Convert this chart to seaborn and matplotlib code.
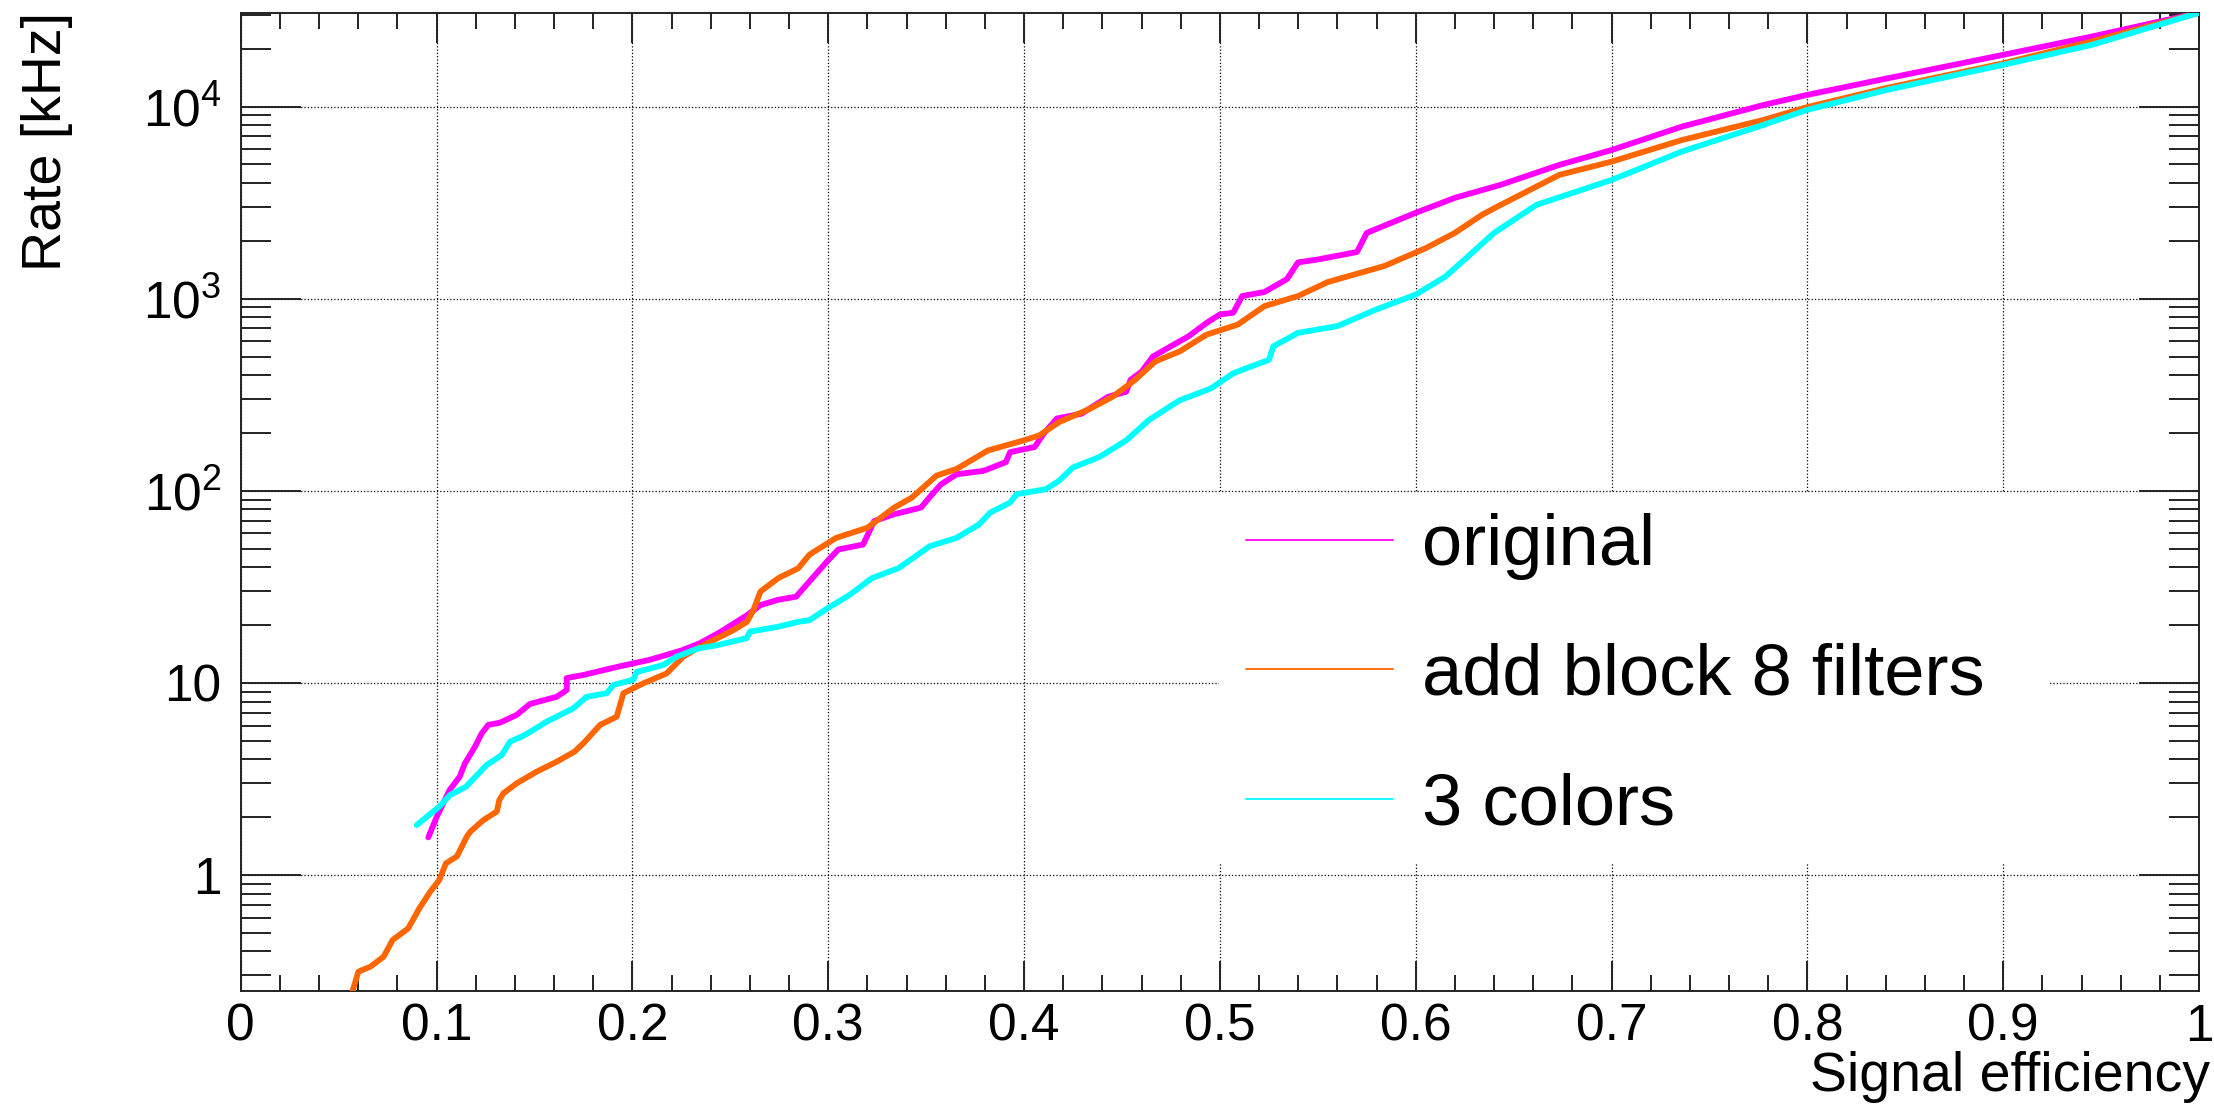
import matplotlib
matplotlib.use('Agg')
import seaborn as sns; sns.set_style("white")
import matplotlib.pyplot as plt
from matplotlib.lines import Line2D
from matplotlib.patches import Rectangle
from matplotlib.ticker import FixedLocator, FixedFormatter, MultipleLocator, FuncFormatter, LogLocator, NullFormatter

plt.rcParams['font.family'] = ['Liberation Sans', 'DejaVu Sans']
plt.rcParams['mathtext.fontset'] = 'custom'
plt.rcParams['mathtext.rm'] = 'Liberation Sans'
plt.rcParams['mathtext.it'] = 'Liberation Sans'
plt.rcParams['text.color'] = 'black'
plt.rcParams['xtick.color'] = 'black'
plt.rcParams['ytick.color'] = 'black'
plt.rcParams['axes.labelcolor'] = 'black'

# values
eff_original = [0.0958, 0.1001, 0.1067, 0.1118, 0.1145, 0.1196, 0.1231, 0.1264, 0.1324, 0.1409,
                0.1477, 0.1614, 0.1665, 0.1665, 0.1750, 0.192, 0.209, 0.2255, 0.2345, 0.2449,
                0.2585, 0.2654, 0.2745, 0.2836, 0.2904, 0.2995, 0.3052, 0.3178, 0.3235, 0.3337,
                0.3474, 0.3531, 0.3576, 0.3656, 0.3793, 0.3907, 0.3929, 0.4054, 0.4100, 0.4168,
                0.4294, 0.4430, 0.4522, 0.4544, 0.4601, 0.4658, 0.4749, 0.4840, 0.4932, 0.5,
                0.5068, 0.5114, 0.5228, 0.5342, 0.5399, 0.55, 0.57, 0.575, 0.60, 0.62,
                0.6432, 0.6733, 0.70, 0.736, 0.7777, 0.7998, 0.8404, 0.9, 0.9448, 1.0]
rate_original = [1.57, 2.01, 2.77, 3.25, 3.81, 4.65, 5.47, 6.04, 6.21, 6.81,
                 7.77, 8.47, 9.19, 10.6, 11.0, 12.1, 13.2, 14.8, 16.1, 18.4,
                 22.5, 25.4, 27.1, 28.1, 33.7, 43.0, 49.5, 52.5, 69.6, 75.5,
                 81.8, 96, 108, 122, 127, 141, 159, 169, 198, 238,
                 252, 309, 328, 378, 418, 500, 565, 637, 748, 828,
                 845, 1032, 1084, 1263, 1545, 1600, 1750, 2200, 2800, 3350,
                 3910, 4970, 5940, 7870, 10200, 11500, 14000, 18600, 23100, 30800]

eff_block8 = [0.0571, 0.0601, 0.0662, 0.0730, 0.0776, 0.0855, 0.0912, 0.0968, 0.1014, 0.1048,
              0.1104, 0.1154, 0.1172, 0.1239, 0.1308, 0.1320, 0.1341, 0.1409, 0.1511, 0.1614,
              0.1705, 0.1750, 0.1835, 0.192, 0.1954, 0.2056, 0.2175, 0.226, 0.2345, 0.2515,
              0.2585, 0.2618, 0.2654, 0.2745, 0.2847, 0.2904, 0.3041, 0.3200, 0.3337, 0.3428,
              0.3553, 0.3656, 0.3815, 0.3998, 0.4077, 0.4180, 0.4339, 0.4453, 0.4567, 0.4670,
              0.4795, 0.4932, 0.5091, 0.5228, 0.5399, 0.555, 0.584, 0.605, 0.62, 0.634,
              0.6432, 0.6733, 0.70, 0.736, 0.7777, 0.7998, 0.8404, 0.9, 0.9448, 1.0]
rate_block8 = [0.249, 0.314, 0.333, 0.376, 0.459, 0.527, 0.670, 0.819, 0.942, 1.15,
               1.25, 1.58, 1.68, 1.93, 2.14, 2.45, 2.66, 3.0, 3.45, 3.89,
               4.39, 4.85, 6.04, 6.67, 8.83, 9.95, 11.2, 13.7, 15.4, 18.8,
               20.8, 23.9, 29.9, 35.1, 39.5, 46.5, 56.9, 64.2, 81.8, 92.3,
               120, 130, 162, 183, 194, 228, 268, 309, 378, 471,
               532, 650, 733, 915, 1032, 1220, 1480, 1830, 2200, 2740,
               3070, 4410, 5170, 6700, 8530, 9930, 12500, 16800, 21800, 30800]

eff_3colors = [0.0899, 0.1014, 0.1069, 0.1150, 0.1256, 0.1333, 0.1375, 0.1452, 0.1562, 0.1698,
               0.1767, 0.1869, 0.1903, 0.2005, 0.2022, 0.2158, 0.2226, 0.2335, 0.2431, 0.2584,
               0.2601, 0.2745, 0.2847, 0.2904, 0.2995, 0.3109, 0.3223, 0.3360, 0.3519, 0.3656,
               0.3770, 0.3827, 0.3929, 0.3963, 0.4112, 0.4180, 0.4248, 0.4385, 0.4522, 0.4636,
               0.4795, 0.4954, 0.5068, 0.5251, 0.5273, 0.5399, 0.56, 0.58, 0.60, 0.615,
               0.625, 0.64, 0.6617, 0.70, 0.736, 0.7777, 0.7998, 0.8404, 0.9, 0.9448, 1.0]
rate_3colors = [1.82, 2.27, 2.61, 2.88, 3.74, 4.21, 4.94, 5.36, 6.28, 7.37,
                8.47, 8.83, 9.75, 10.4, 11.4, 12.4, 13.7, 15.1, 15.7, 17.1,
                18.5, 19.6, 20.8, 21.2, 24.4, 28.7, 35.1, 39.6, 51.5, 56.9,
                66.8, 76.9, 86.9, 96.1, 102, 113, 132, 150, 183, 233,
                296, 341, 409, 481, 565, 664, 720, 880, 1050, 1300,
                1600, 2200, 3080, 4150, 5840, 8040, 9610, 12200, 16500, 20900, 30800]

labels = ['original', 'add block 8 filters', '3 colors']
colors = ['#ff00ff', '#ff6600', '#00ffff']
y_ticks = [1, 10, 100, 1000, 10000]
y_ticklabels = ['1', '10', r'$10^{2}$', r'$10^{3}$', r'$10^{4}$']


def run_plot():
    fig = plt.figure(figsize=(22.14, 11.15), dpi=100)
    ax = fig.add_axes([0.10872, 0.11121, 0.88451, 0.87686])
    series = [(eff_original, rate_original), (eff_block8, rate_block8), (eff_3colors, rate_3colors)]
    for (xs, ys), c in zip(series, colors):
        sns.lineplot(x=xs, y=ys, ax=ax, color=c, lw=4.2, estimator=None, sort=False,
                     legend=False, zorder=3)
    ax.set_yscale('log')
    ax.set_xlim(0, 1)
    ax.set_ylim(0.249, 3.06e4)
    #
    ax.xaxis.set_major_locator(MultipleLocator(0.1))
    ax.xaxis.set_minor_locator(MultipleLocator(0.02))
    ax.xaxis.set_major_formatter(FuncFormatter(lambda v, p: '%g' % round(v, 2)))
    ax.yaxis.set_major_locator(FixedLocator(y_ticks))
    ax.yaxis.set_major_formatter(FixedFormatter(y_ticklabels))
    ax.yaxis.set_minor_locator(LogLocator(base=10, subs=range(2, 10), numticks=20))
    ax.yaxis.set_minor_formatter(NullFormatter())
    ax.tick_params(which='both', direction='in', bottom=True, left=True, top=True, right=True,
                   width=1.4, color='#222222')
    ax.tick_params(axis='x', which='major', length=21.6, pad=8.6, labelsize=37)
    ax.tick_params(axis='x', which='minor', length=11.5)
    ax.tick_params(axis='y', which='major', length=43, pad=14, labelsize=37)
    ax.tick_params(axis='y', which='minor', length=21.6)
    for s in ax.spines.values():
        s.set_linewidth(1.4)
        s.set_color('#222222')
    ax.set_axisbelow(True)
    ax.grid(True, which='major', color='black', linestyle=':', linewidth=0.9)
    #
    ax.set_xlabel('Signal efficiency', fontsize=40, loc='right')
    ax.xaxis.set_label_coords(1.0056, -0.0613)
    ax.set_ylabel('Rate [kHz]', fontsize=40, loc='top')
    ax.yaxis.set_label_coords(-0.0857, 1.001)
    #
    ax.add_patch(Rectangle((0.4995, 0.131), 0.4245, 0.378, transform=ax.transAxes,
                           facecolor='white', edgecolor='none', zorder=2))
    handles = [Line2D([], [], color=c, lw=1.3) for c in colors]
    ax.legend(handles, labels, loc='center left', bbox_to_anchor=(0.5134, 0.322), frameon=False,
              fontsize=52, handlelength=2.03, handletextpad=0.4, labelspacing=0.87,
              borderpad=0, borderaxespad=0)
    plt.savefig('out.png', dpi=100)


if __name__ == '__main__':
    run_plot()
